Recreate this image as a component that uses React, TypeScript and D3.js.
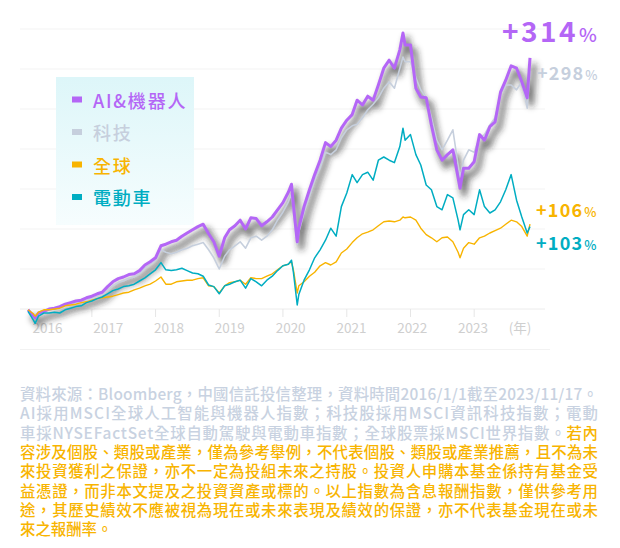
import React from 'react';
import * as d3 from 'd3';

const dates = [
  "2016-01-01","2016-02-01","2016-02-11","2016-03-01","2016-04-01","2016-05-01","2016-06-01","2016-07-01","2016-08-01","2016-09-01","2016-10-01","2016-11-01","2016-12-01",
  "2017-01-01","2017-02-01","2017-03-01","2017-04-01","2017-05-01","2017-06-01","2017-07-01","2017-08-01","2017-09-01","2017-10-01","2017-11-01","2017-12-01",
  "2018-01-01","2018-02-01","2018-03-01","2018-04-01","2018-05-01","2018-06-01","2018-07-01","2018-08-01","2018-09-01","2018-10-01","2018-11-01","2018-12-01",
  "2019-01-01","2019-02-01","2019-03-01","2019-04-01","2019-05-01","2019-06-01","2019-07-01","2019-08-01","2019-09-01","2019-10-01","2019-11-01","2019-12-01",
  "2020-01-01","2020-02-01","2020-02-19","2020-03-01","2020-03-23","2020-04-01",
  "2020-05-01","2020-06-01","2020-07-01","2020-08-01","2020-09-01","2020-10-01","2020-11-01","2020-12-01",
  "2021-01-01","2021-02-01","2021-03-01","2021-04-01","2021-05-01","2021-06-01","2021-07-01","2021-08-01","2021-09-01","2021-10-01","2021-11-01","2021-11-19","2021-12-01",
  "2022-01-01","2022-02-01","2022-03-01","2022-04-01","2022-05-01","2022-06-01","2022-07-01","2022-08-01","2022-09-01","2022-10-01","2022-10-12","2022-11-01","2022-12-01",
  "2023-01-01","2023-02-01","2023-03-01","2023-04-01","2023-05-01","2023-06-01","2023-07-01","2023-08-01","2023-09-01","2023-10-01","2023-11-01","2023-11-17",
];

// cumulative return, %
const aiValues = [
  -1,-9,-11,-5,-3,0,1,3,6,8,10,11,14,
  16,19,21,28,34,38,40,43,44,48,55,59,
  64,79,81,84,86,91,95,99,103,106,94,84,
  66,89,99,104,111,100,114,113,104,109,115,124,
  133,146,156,130,84,101,
  128,149,168,186,208,203,211,226,
  236,243,261,255,266,261,280,301,311,301,324,345,330,
  330,276,265,264,230,199,186,193,199,164,151,176,176,
  184,218,211,228,234,271,286,304,301,284,264,314,
];
const techValues = [
  -1,-9,-11,-6,-4,-1,0,0,4,5,8,9,11,
  14,16,19,24,29,33,35,38,40,44,51,56,
  61,74,71,69,71,74,76,79,81,83,74,64,
  50,66,74,79,84,76,89,91,86,91,99,111,
  121,134,144,121,81,96,
  121,141,161,176,196,193,199,214,
  224,229,231,239,249,256,264,276,284,276,301,315,309,
  309,289,274,264,239,211,199,211,224,180,165,186,199,
  196,214,218,230,239,268,280,280,274,284,251,298,
];
const globalValues = [
  -1,-6,-9,-4,-1,-1,0,1,4,5,6,8,9,
  11,13,14,15,16,18,20,21,24,26,29,31,
  35,40,31,31,34,35,36,36,38,39,29,28,
  20,29,33,34,36,31,39,38,38,41,44,49,
  54,56,59,49,20,29,
  34,41,46,54,58,55,59,70,
  75,83,89,94,96,99,104,109,110,109,111,115,114,
  115,111,101,93,89,84,89,90,84,71,64,76,83,
  81,89,91,95,98,101,106,111,109,103,91,106,
];
const evValues = [
  -3,-14,-18,-9,-5,-5,-4,-5,-1,1,3,4,8,
  10,13,15,19,23,25,28,29,31,35,39,44,
  49,58,49,48,49,51,48,45,44,41,30,28,
  19,29,31,34,36,26,38,34,29,36,41,48,
  54,56,61,46,5,18,
  36,49,64,74,86,101,91,128,
  145,168,158,168,171,161,186,190,186,183,203,226,211,
  218,193,180,155,149,128,124,143,139,111,99,118,124,
  118,149,128,120,124,134,149,168,136,115,95,103,
];

const yearLabels = ["2016","2017","2018","2019","2020","2021","2022","2023"];
const tickYears = ["2017","2018","2019","2020","2021","2022","2023"];
const gridValues = [0, 50, 100, 150, 200, 250, 300, 350];

const legendNames = ["AI&機器人", "科技", "全球", "電動車"];
const endLabels = ["+314", "+298", "+106", "+103"];

const COLORS = {
  ai: "#b466f6",
  tech: "#c6cfdd",
  global: "#f8b400",
  ev: "#00adc2",
  foot: "#c8d2e1",
  axis: "#cfcfcf",
};

const footGrey1 = "資料來源：Bloomberg，中國信託投信整理，資料時間2016/1/1截至2023/11/17。";
const footGrey2 = "AI採用MSCI全球人工智能與機器人指數；科技股採用MSCI資訊科技指數；電動";
const footGrey3 = "車採NYSEFactSet全球自動駕駛與電動車指數；全球股票採MSCI世界指數。";
const footOrange3 = "若內";
const footOrangeLines = [
  "容涉及個股、類股或產業，僅為參考舉例，不代表個股、類股或產業推薦，且不為未",
  "來投資獲利之保證，亦不一定為投組未來之持股。投資人申購本基金係持有基金受",
  "益憑證，而非本文提及之投資資產或標的。以上指數為含息報酬指數，僅供參考用",
  "途，其歷史績效不應被視為現在或未來表現及績效的保證，亦不代表基金現在或未",
];
const footLast = "來之報酬率。";

const FONT = "'Noto Sans CJK TC', 'Noto Sans', sans-serif";

export default function App() {
  const W = 620, H = 548;
  const parse = d3.utcParse("%Y-%m-%d");
  const parsed = dates.map((d) => parse(d) as Date);
  const x = d3.scaleUtc().domain([parse("2016-01-01") as Date, parse("2023-11-17") as Date]).range([28, 530]);
  const y = d3.scaleLinear().domain([0, 350]).range([309, 29]);
  const labelX = d3.scalePoint<string>().domain(yearLabels).range([47.5, 473]);

  const line = d3.line<number>().x((_, i) => x(parsed[i])).y((d) => y(d)).curve(d3.curveLinear);

  const legendColors = [COLORS.ai, COLORS.tech, COLORS.global, COLORS.ev];
  const legendY = d3.scalePoint<string>().domain(legendNames).range([99.5, 197]);

  const footX0 = 20, footW = 578;
  const footY = d3.scaleLinear().domain([0, 1]).range([400, 419.3]);

  return (
    <svg width={W} height={H} viewBox={`0 0 ${W} ${H}`} style={{ position: "absolute", left: 0, top: 0, background: "#fff" }} fontFamily={FONT}>
      <defs>
        <linearGradient id="legBg" x1="0" y1="0" x2="0" y2="1">
          <stop offset="0%" stopColor="#ddf6f9" />
          <stop offset="100%" stopColor="#f6fdfe" />
        </linearGradient>
        <filter id="shadowBlur" x="-10%" y="-15%" width="120%" height="140%">
          <feGaussianBlur stdDeviation="3.4" />
        </filter>
      </defs>

      {/* grid */}
      {gridValues.map((v) => (
        <line key={v} x1={20} x2={545} y1={y(v)} y2={y(v)} stroke={v === 0 ? "#ececec" : "#f3f3f3"} strokeWidth={1} />
      ))}
      {tickYears.map((t) => {
        const tx = x(parse(`${t}-01-01`) as Date);
        return <line key={t} x1={tx} x2={tx} y1={309} y2={317} stroke="#e6e6e6" strokeWidth={1} />;
      })}
      <line x1={20} x2={550} y1={349.5} y2={349.5} stroke="#f2f2f2" strokeWidth={1} />

      {/* year labels */}
      {yearLabels.map((t) => (
        <text key={t} x={labelX(t)} y={333} textAnchor="middle" fontSize={13.5} fill={COLORS.axis}>{t}</text>
      ))}
      <text x={520} y={333} textAnchor="middle" fontSize={13.5} fill={COLORS.axis}>(年)</text>

      {/* legend */}
      <rect x={56} y={77} width={138} height={148} fill="url(#legBg)" />
      {legendNames.map((n, i) => (
        <g key={n}>
          <rect x={72} y={(legendY(n) as number) - 3} width={10} height={6} fill={legendColors[i]} />
          <text x={93} y={legendY(n)} dominantBaseline="central" fontSize={18} fontWeight={500} letterSpacing={1.8} fill={legendColors[i]}>{n}</text>
        </g>
      ))}

      {/* AI shadow */}
      <path d={line(aiValues) || ""} transform="translate(4,6)" fill="none" stroke="#222" strokeOpacity={0.62} strokeWidth={5.5} strokeLinejoin="round" filter="url(#shadowBlur)" />
      {/* tech */}
      <path d={line(techValues) || ""} fill="none" stroke={COLORS.tech} strokeWidth={1.6} strokeLinejoin="round" />
      {/* AI */}
      <path d={line(aiValues) || ""} fill="none" stroke={COLORS.ai} strokeWidth={3} strokeLinejoin="round" />
      {/* global */}
      <path d={line(globalValues) || ""} fill="none" stroke={COLORS.global} strokeWidth={1.4} strokeLinejoin="round" />
      {/* EV */}
      <path d={line(evValues) || ""} fill="none" stroke={COLORS.ev} strokeWidth={1.5} strokeLinejoin="round" />

      {/* end labels */}
      <text x={502} y={42} fill={COLORS.ai}>
        <tspan fontSize={28} fontWeight={700} letterSpacing={2.5}>{endLabels[0]}</tspan>
        <tspan fontSize={19} fontWeight={500} dx={1}>%</tspan>
      </text>
      <text x={537} y={80} fill={COLORS.tech}>
        <tspan fontSize={18} fontWeight={700} letterSpacing={1.2}>{endLabels[1]}</tspan>
        <tspan fontSize={13} fontWeight={500} dx={1}>%</tspan>
      </text>
      <text x={536} y={217} fill={COLORS.global}>
        <tspan fontSize={18} fontWeight={700} letterSpacing={1.2}>{endLabels[2]}</tspan>
        <tspan fontSize={13} fontWeight={500} dx={1}>%</tspan>
      </text>
      <text x={536} y={250} fill={COLORS.ev}>
        <tspan fontSize={18} fontWeight={700} letterSpacing={1.2}>{endLabels[3]}</tspan>
        <tspan fontSize={13} fontWeight={500} dx={1}>%</tspan>
      </text>

      {/* footnote */}
      <g fontSize={15.4} fontWeight={500}>
        <text x={footX0} y={footY(0)} fill={COLORS.foot} textLength={footW} lengthAdjust="spacing">{footGrey1}</text>
        <text x={footX0} y={footY(1)} fill={COLORS.foot} textLength={footW} lengthAdjust="spacing">{footGrey2}</text>
        <text x={footX0} y={footY(2)} textLength={footW} lengthAdjust="spacing">
          <tspan fill={COLORS.foot}>{footGrey3}</tspan>
          <tspan fill={COLORS.global}>{footOrange3}</tspan>
        </text>
        {footOrangeLines.map((l, i) => (
          <text key={i} x={footX0} y={footY(3 + i)} fill={COLORS.global} textLength={footW} lengthAdjust="spacing">{l}</text>
        ))}
        <text x={footX0} y={footY(7)} fill={COLORS.global}>{footLast}</text>
      </g>
    </svg>
  );
}
